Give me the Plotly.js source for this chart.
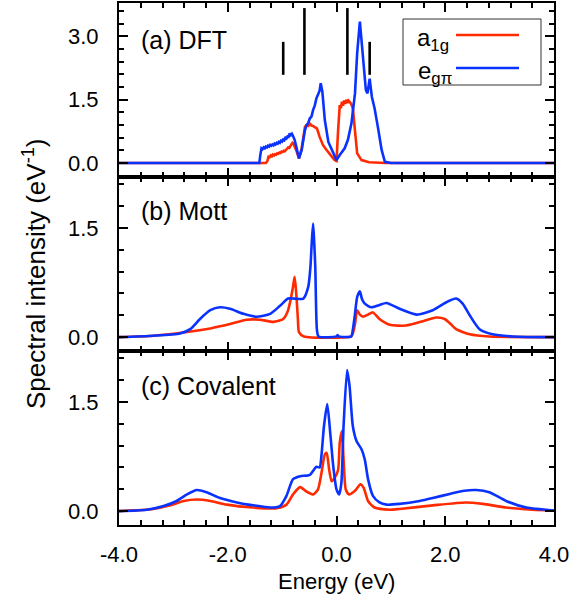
<!DOCTYPE html>
<html>
<head>
<meta charset="utf-8">
<script src="https://cdn.plot.ly/plotly-3.0.1.min.js"></script>
<style>html,body{margin:0;padding:0;background:#fff;}#chart{width:586px;height:607px;}</style>
</head>
<body>
<div id="chart"></div>
<script>
// ---- Panel (a) DFT ----
var dftA1gE = [-4, -1.3, -1.27, -1.25, -1.23, -1.21, -1.19, -1.17, -1.15, -1.13, -1.11, -1.09, -1.07, -1.05, -1.03, -1.01, -0.99, -0.97, -0.95, -0.93, -0.91, -0.89, -0.87, -0.85, -0.83, -0.81, -0.79, -0.77, -0.74, -0.69, -0.64, -0.58, -0.55, -0.52, -0.49, -0.46, -0.43, -0.40, -0.36, -0.31, -0.25, -0.20, -0.15, -0.09, -0.03, 0.0, 0.03, 0.06, 0.08, 0.10, 0.12, 0.14, 0.16, 0.18, 0.20, 0.22, 0.24, 0.27, 0.30, 0.34, 0.38, 0.46, 0.6, 0.9, 4];
var dftA1g  = [0, 0, 0.05, 0.15, 0.14, 0.18, 0.16, 0.20, 0.18, 0.21, 0.20, 0.23, 0.22, 0.25, 0.24, 0.27, 0.26, 0.29, 0.28, 0.32, 0.33, 0.37, 0.36, 0.41, 0.43, 0.48, 0.46, 0.40, 0.30, 0.11, 0.35, 0.86, 0.90, 0.88, 0.93, 0.89, 0.88, 0.85, 0.82, 0.62, 0.43, 0.34, 0.27, 0.16, 0.07, 0.05, 0.78, 1.37, 1.30, 1.45, 1.36, 1.48, 1.40, 1.50, 1.42, 1.48, 1.45, 1.40, 1.30, 0.78, 0.23, 0.07, 0.02, 0, 0];
var dftEgE  = [-4, -1.42, -1.40, -1.38, -1.36, -1.34, -1.32, -1.30, -1.28, -1.26, -1.24, -1.22, -1.20, -1.18, -1.16, -1.14, -1.12, -1.10, -1.08, -1.06, -1.04, -1.02, -1.00, -0.98, -0.96, -0.94, -0.92, -0.90, -0.88, -0.86, -0.84, -0.82, -0.80, -0.77, -0.74, -0.69, -0.64, -0.58, -0.55, -0.52, -0.49, -0.46, -0.43, -0.40, -0.37, -0.35, -0.33, -0.31, -0.29, -0.26, -0.215, -0.15, -0.06, 0.0, 0.06, 0.15, 0.21, 0.275, 0.34, 0.38, 0.43, 0.48, 0.54, 0.57, 0.61, 0.65, 0.70, 0.76, 0.83, 0.89, 1.0, 4];
var dftEg   = [0, 0, 0.2, 0.35, 0.33, 0.37, 0.35, 0.39, 0.37, 0.41, 0.39, 0.43, 0.41, 0.44, 0.42, 0.46, 0.44, 0.48, 0.46, 0.50, 0.48, 0.53, 0.51, 0.56, 0.54, 0.60, 0.58, 0.63, 0.62, 0.70, 0.66, 0.69, 0.64, 0.55, 0.39, 0.11, 0.31, 0.78, 0.90, 0.95, 1.06, 1.10, 1.26, 1.36, 1.53, 1.58, 1.65, 1.72, 1.89, 1.69, 1.02, 0.50, 0.23, 0.07, 0.19, 0.35, 0.55, 0.94, 1.65, 2.6, 3.35, 2.68, 1.73, 1.65, 2.0, 1.57, 1.30, 0.86, 0.31, 0.03, 0, 0];
// vertical marker bars in panel (a)
var markE    = [-0.98, -0.59, 0.20, 0.61];
var markTop  = [2.87, 3.67, 3.67, 2.87];
var markBase = 2.09;

// ---- Panel (b) Mott ----
var mottEgE = [-4, -3.37, -2.88, -2.69, -2.51, -2.32, -2.14, -1.96, -1.71, -1.47, -1.22, -1.04, -0.89, -0.77, -0.61, -0.52, -0.48, -0.455, -0.43, -0.41, -0.39, -0.36, -0.33, 0.0, 0.02, 0.04, 0.27, 0.30, 0.34, 0.38, 0.43, 0.47, 0.52, 0.64, 0.78, 0.92, 1.16, 1.47, 1.77, 2.02, 2.20, 2.32, 2.45, 2.63, 2.87, 3.24, 4];
var mottEg  = [0, 0.02, 0.05, 0.11, 0.25, 0.37, 0.41, 0.39, 0.32, 0.28, 0.32, 0.43, 0.53, 0.53, 0.53, 0.69, 0.96, 1.3, 1.56, 1.3, 0.96, 0.1, 0.01, 0.01, 0.03, 0.01, 0.01, 0.1, 0.32, 0.55, 0.63, 0.52, 0.46, 0.41, 0.44, 0.47, 0.39, 0.31, 0.37, 0.48, 0.53, 0.46, 0.30, 0.11, 0.04, 0.01, 0];
var mottA1gE = [-4, -3.37, -2.75, -2.32, -1.96, -1.65, -1.41, -1.16, -0.98, -0.90, -0.86, -0.80, -0.77, -0.74, -0.71, -0.69, -0.60, 0.27, 0.30, 0.34, 0.38, 0.43, 0.49, 0.58, 0.67, 0.79, 0.98, 1.28, 1.59, 1.83, 1.99, 2.10, 2.20, 2.45, 2.81, 4];
var mottA1g  = [0, 0.02, 0.07, 0.12, 0.18, 0.24, 0.24, 0.21, 0.25, 0.35, 0.46, 0.69, 0.83, 0.6, 0.25, 0.07, 0.01, 0.01, 0.05, 0.18, 0.37, 0.31, 0.28, 0.31, 0.34, 0.25, 0.17, 0.16, 0.22, 0.27, 0.25, 0.18, 0.11, 0.04, 0.01, 0];

// ---- Panel (c) Covalent ----
var covEgE = [-4, -3.49, -3.18, -2.94, -2.75, -2.57, -2.39, -2.14, -1.83, -1.53, -1.22, -1.04, -0.92, -0.80, -0.67, -0.49, -0.37, -0.31, -0.275, -0.23, -0.17, -0.11, -0.06, 0.0, 0.05, 0.09, 0.13, 0.195, 0.24, 0.30, 0.37, 0.46, 0.52, 0.58, 0.67, 0.79, 0.92, 1.16, 1.53, 1.77, 2.10, 2.35, 2.57, 2.81, 3.12, 3.49, 4];
var covEg  = [0, 0.02, 0.07, 0.14, 0.23, 0.29, 0.26, 0.18, 0.12, 0.08, 0.05, 0.07, 0.21, 0.44, 0.48, 0.50, 0.61, 0.60, 0.78, 1.17, 1.47, 1.03, 0.62, 0.30, 0.23, 0.39, 1.17, 1.94, 1.72, 1.17, 0.96, 0.85, 0.71, 0.44, 0.21, 0.12, 0.09, 0.10, 0.14, 0.18, 0.24, 0.28, 0.29, 0.26, 0.14, 0.05, 0.01];
var covA1gE = [-4, -3.37, -3.06, -2.81, -2.57, -2.32, -2.02, -1.53, -1.10, -0.92, -0.80, -0.67, -0.55, -0.43, -0.34, -0.275, -0.215, -0.18, -0.135, -0.09, -0.03, 0.03, 0.06, 0.10, 0.13, 0.17, 0.23, 0.34, 0.44, 0.50, 0.58, 0.70, 0.98, 1.16, 1.77, 2.38, 2.69, 3.12, 3.6, 4];
var covA1g  = [0, 0.03, 0.08, 0.14, 0.16, 0.14, 0.09, 0.05, 0.04, 0.09, 0.23, 0.33, 0.27, 0.23, 0.30, 0.53, 0.78, 0.80, 0.57, 0.41, 0.46, 0.57, 0.94, 1.10, 0.71, 0.30, 0.23, 0.28, 0.37, 0.32, 0.14, 0.05, 0.02, 0.03, 0.08, 0.12, 0.10, 0.05, 0.02, 0.01];

// ---- Labels ----
var seriesNames = ['a<sub>1g</sub>', 'e<sub>gπ</sub>'];
var panelLabels = ['(a) DFT', '(b) Mott', '(c) Covalent'];
var xTickVals = [-4, -2, 0, 2, 4];
var xTickText = ['-4.0', '-2.0', '0.0', '2.0', '4.0'];
var yTickValsA = [0, 1.5, 3.0];
var yTickTextA = ['0.0', '1.5', '3.0'];
var yTickValsBC = [0, 1.5];
var yTickTextBC = ['0.0', '1.5'];
var xTitle = 'Energy (eV)';
var yTitle = 'Spectral intensity (eV<sup>-1</sup>)';

var RED = '#FF2A00', BLUE = '#0A32FF';
var FONT = 'Liberation Sans, Arial, sans-serif';

// marker bars as one trace with gaps
var barX = [], barY = [];
for (var i = 0; i < markE.length; i++) {
  barX.push(markE[i], markE[i], null);
  barY.push(markBase, markTop[i], null);
}

function line(x, y, color, xa, ya, shape) {
  return {x: x, y: y, type: 'scatter', mode: 'lines', xaxis: xa, yaxis: ya,
          line: {color: color, width: 2.6, shape: shape || 'linear', smoothing: 0.6},
          hoverinfo: 'skip', showlegend: false};
}

var traces = [
  line(dftA1gE, dftA1g, RED, 'x3', 'y3'),
  line(dftEgE, dftEg, BLUE, 'x3', 'y3'),
  {x: barX, y: barY, type: 'scatter', mode: 'lines', xaxis: 'x3', yaxis: 'y3',
   line: {color: '#000', width: 2.6}, hoverinfo: 'skip', showlegend: false},
  line(mottA1gE, mottA1g, RED, 'x2', 'y2', 'spline'),
  line(mottEgE, mottEg, BLUE, 'x2', 'y2', 'spline'),
  line(covA1gE, covA1g, RED, 'x', 'y', 'spline'),
  line(covEgE, covEg, BLUE, 'x', 'y', 'spline')
];

function xAxis(anchor, showLabels) {
  return {
    anchor: anchor, domain: [0, 1], range: [-4, 4],
    showline: true, linecolor: '#000', linewidth: 2, mirror: 'ticks',
    ticks: 'inside', ticklen: 9, tickwidth: 2, tickcolor: '#000',
    tickmode: 'array', tickvals: xTickVals, ticktext: xTickText,
    showticklabels: showLabels, ticklabelstandoff: 9,
    minor: {dtick: 0.4, tick0: 0, ticks: 'inside', ticklen: 5, tickwidth: 2, tickcolor: '#000'},
    showgrid: false, zeroline: false,
    tickfont: {family: FONT, size: 22, color: '#000'}
  };
}
function yAxis(anchor, domain, range, tv, tt) {
  return {
    anchor: anchor, domain: domain, range: range,
    showline: true, linecolor: '#000', linewidth: 2, mirror: 'ticks',
    ticks: 'inside', ticklen: 9, tickwidth: 2, tickcolor: '#000',
    tickmode: 'array', tickvals: tv, ticktext: tt, ticklabelstandoff: 14,
    minor: {dtick: 0.3, tick0: 0, ticks: 'inside', ticklen: 5, tickwidth: 2, tickcolor: '#000'},
    showgrid: false, zeroline: false,
    tickfont: {family: FONT, size: 22, color: '#000'}
  };
}

function px2x(px) { return (px - 119) / 435; }
function px2y(py) { return (525 - py) / 522; }

var annotations = [
  {text: panelLabels[0], x: px2x(139), y: px2y(40), xanchor: 'left', yanchor: 'middle'},
  {text: panelLabels[1], x: px2x(139), y: px2y(211), xanchor: 'left', yanchor: 'middle'},
  {text: panelLabels[2], x: px2x(139), y: px2y(386), xanchor: 'left', yanchor: 'middle'}
].map(function (a) {
  a.xref = 'paper'; a.yref = 'paper'; a.showarrow = false;
  a.font = {family: FONT, size: 25, color: '#000'};
  return a;
});
annotations.push({text: xTitle, x: 0.5, y: px2y(581), xref: 'paper', yref: 'paper',
  xanchor: 'center', yanchor: 'middle', showarrow: false,
  font: {family: FONT, size: 22, color: '#000'}});
annotations.push({text: yTitle, x: px2x(35), y: px2y(274), xref: 'paper', yref: 'paper',
  xanchor: 'center', yanchor: 'middle', textangle: -90, showarrow: false,
  font: {family: FONT, size: 26, color: '#000'}});
// custom legend (text left of line)
annotations.push({text: seriesNames[0], x: px2x(451), y: px2y(39), xref: 'paper', yref: 'paper',
  xanchor: 'right', yanchor: 'middle', showarrow: false, font: {family: FONT, size: 24, color: '#000'}});
annotations.push({text: seriesNames[1], x: px2x(454), y: px2y(72), xref: 'paper', yref: 'paper',
  xanchor: 'right', yanchor: 'middle', showarrow: false, font: {family: FONT, size: 24, color: '#000'}});

var shapes = [
  {type: 'rect', xref: 'paper', yref: 'paper', x0: px2x(403), x1: px2x(541), y0: px2y(85), y1: px2y(19),
   line: {color: '#333', width: 1}, fillcolor: '#fff', layer: 'above'},
  {type: 'line', xref: 'paper', yref: 'paper', x0: px2x(456), x1: px2x(519), y0: px2y(35), y1: px2y(35),
   line: {color: RED, width: 2.6}, layer: 'above'},
  {type: 'line', xref: 'paper', yref: 'paper', x0: px2x(456), x1: px2x(519), y0: px2y(68), y1: px2y(68),
   line: {color: BLUE, width: 2.6}, layer: 'above'}
];

var layout = {
  width: 586, height: 607,
  margin: {l: 119, r: 32, t: 3, b: 82},
  paper_bgcolor: '#fff', plot_bgcolor: '#fff',
  showlegend: false,
  font: {family: FONT, color: '#000'},
  xaxis: xAxis('y', true),
  xaxis2: xAxis('y2', false),
  xaxis3: xAxis('y3', false),
  yaxis: yAxis('x', [0, 1/3], [-0.19, 2.2], yTickValsBC, yTickTextBC),
  yaxis2: yAxis('x2', [1/3, 2/3], [-0.19, 2.2], yTickValsBC, yTickTextBC),
  yaxis3: yAxis('x3', [2/3, 1], [-0.33, 3.79], yTickValsA, yTickTextA),
  annotations: annotations,
  shapes: shapes
};

Plotly.newPlot('chart', traces, layout, {staticPlot: true, displayModeBar: false});
</script>
</body>
</html>
